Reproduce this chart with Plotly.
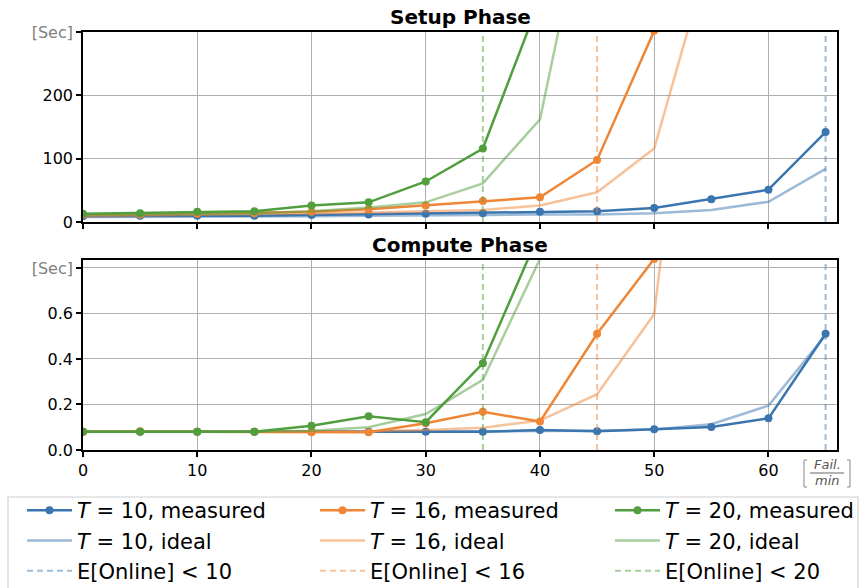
import plotly.graph_objects as go
from plotly.subplots import make_subplots

# ---------------- data ----------------
fail_rate = [0, 5, 10, 15, 20, 25, 30, 35, 40, 45, 50, 55, 60, 65]

setup_t10_measured = [9, 10, 10, 10, 11, 12, 13, 14, 16, 17, 22, 36, 51, 142]
setup_t10_ideal = [8, 8, 9, 9, 9, 10, 10, 11, 12, 12, 14, 19, 32, 84]
setup_t16_measured = [11, 12, 13, 14, 16, 20, 26, 33, 39, 98, 302]
setup_t16_ideal = [9, 10, 11, 12, 13, 15, 17, 19, 26, 47, 116, 433]
setup_t20_measured = [13, 14, 16, 17, 26, 31, 64, 116, 352]
setup_t20_ideal = [11, 12, 13, 14, 17, 23, 31, 61, 162, 593]

compute_t10_measured = [0.08, 0.08, 0.08, 0.08, 0.08, 0.08, 0.08, 0.08, 0.088, 0.082, 0.091, 0.101, 0.139, 0.511]
compute_t10_ideal = [0.08, 0.08, 0.08, 0.08, 0.08, 0.08, 0.08, 0.082, 0.083, 0.085, 0.09, 0.113, 0.195, 0.505]
compute_t16_measured = [0.08, 0.082, 0.08, 0.08, 0.078, 0.078, 0.118, 0.168, 0.125, 0.511, 0.84]
compute_t16_ideal = [0.08, 0.08, 0.08, 0.08, 0.08, 0.082, 0.088, 0.098, 0.129, 0.245, 0.598, 2.68]
compute_t20_measured = [0.08, 0.08, 0.08, 0.08, 0.107, 0.148, 0.122, 0.381, 0.96]
compute_t20_ideal = [0.08, 0.08, 0.08, 0.08, 0.085, 0.10, 0.158, 0.308, 0.84, 2.0]

thresholds = {"10": 65, "16": 45, "20": 35}

x_ticks = [0, 10, 20, 30, 40, 50, 60]
setup_ticks = [0, 100, 200, 300]
setup_ticktext = ["0", "100", "200", '<span style="color:#7f7f7f">[Sec]</span>']
compute_ticks = [0.0, 0.2, 0.4, 0.6, 0.8]
compute_ticktext = ["0.0", "0.2", "0.4", "0.6", '<span style="color:#7f7f7f">[Sec]</span>']

X_RANGE = [0, 66]
SETUP_RANGE = [0, 300]
COMPUTE_RANGE = [0, 0.835]

colors = {"10": (59, 117, 175), "16": (239, 134, 54), "20": (81, 158, 62)}

def rgb(c, a=1.0):
    return f"rgba({c[0]},{c[1]},{c[2]},{a})"

FONT = "DejaVu Sans"

fig = make_subplots(rows=2, cols=1, subplot_titles=("<b>Setup Phase</b>", "<b>Compute Phase</b>"),
                    vertical_spacing=0.09)

series = {
    "10": (setup_t10_measured, setup_t10_ideal, compute_t10_measured, compute_t10_ideal),
    "16": (setup_t16_measured, setup_t16_ideal, compute_t16_measured, compute_t16_ideal),
    "20": (setup_t20_measured, setup_t20_ideal, compute_t20_measured, compute_t20_ideal),
}
legend_names = {"10": "legend", "16": "legend2", "20": "legend3"}

for T, (s_meas, s_ideal, c_meas, c_ideal) in series.items():
    col = colors[T]
    lg = legend_names[T]
    for row, meas, ideal in ((1, s_meas, s_ideal), (2, c_meas, c_ideal)):
        show = row == 1
        fig.add_trace(go.Scatter(
            x=fail_rate[:len(ideal)], y=ideal, mode="lines",
            line=dict(color=rgb(col, 0.5), width=2.5),
            name=f"<i>T</i> = {T}, ideal", legend=lg, legendrank=2,
            showlegend=show), row=row, col=1)
        fig.add_trace(go.Scatter(
            x=fail_rate[:len(meas)], y=meas, mode="lines+markers",
            line=dict(color=rgb(col), width=2.5),
            marker=dict(color=rgb(col), size=8),
            name=f"<i>T</i> = {T}, measured", legend=lg, legendrank=1,
            showlegend=show), row=row, col=1)

for T, xv in thresholds.items():
    col = colors[T]
    lg = legend_names[T]
    for row, yr in ((1, SETUP_RANGE), (2, COMPUTE_RANGE)):
        fig.add_trace(go.Scatter(
            x=[xv, xv], y=[yr[0], yr[1] * 2], mode="lines",
            line=dict(color=rgb(col, 0.5), width=2, dash="6px,4px"),
            name=f"E[Online] < {T}", legend=lg, legendrank=3,
            showlegend=(row == 1)), row=row, col=1)

axis_common = dict(showline=True, mirror=True, linecolor="black", linewidth=1.6,
                   showgrid=True, gridcolor="#b0b0b0", gridwidth=1.3, zeroline=False,
                   ticks="outside", ticklen=5, tickwidth=1.5, tickcolor="black",
                   tickfont=dict(family=FONT, size=16, color="black"))

fig.update_xaxes(range=X_RANGE, tickvals=x_ticks, **axis_common)
fig.update_xaxes(showticklabels=False, row=1, col=1)
fig.update_yaxes(**axis_common)
fig.update_yaxes(range=SETUP_RANGE, tickvals=setup_ticks, ticktext=setup_ticktext, row=1, col=1)
fig.update_yaxes(range=COMPUTE_RANGE, tickvals=compute_ticks, ticktext=compute_ticktext, row=2, col=1)

PLOT_H = 588 - 32 - 138
fig.update_layout(
    yaxis=dict(domain=[228 / PLOT_H, 1]),
    yaxis2=dict(domain=[0, 190 / PLOT_H]),
)

for ann in fig.layout.annotations:
    ann.font = dict(family=FONT, size=20, color="black")
    ann.yshift = 1

def px_x(p):
    return (p - 83) / 754

def px_y(p):
    return (450 - p) / PLOT_H

legend_common = dict(orientation="v", font=dict(family=FONT, size=21, color="black"),
                     bgcolor="rgba(0,0,0,0)", borderwidth=0, itemwidth=45,
                     xanchor="left", yanchor="top", tracegroupgap=0)
legend_y = px_y(490)
fig.update_layout(
    legend=dict(x=px_x(22), y=legend_y, **legend_common),
    legend2=dict(x=px_x(315), y=legend_y, **legend_common),
    legend3=dict(x=px_x(610), y=legend_y, **legend_common),
)

shapes = [
    dict(type="rect", xref="paper", yref="paper", x0=px_x(8), x1=px_x(858), y0=px_y(640), y1=px_y(497),
         line=dict(color="#d0d0d0", width=1.2), fillcolor="rgba(0,0,0,0)", layer="below"),
    # fraction bar and brackets for x unit label
    dict(type="line", xref="paper", yref="paper", x0=px_x(810), x1=px_x(844), y0=px_y(473), y1=px_y(473),
         line=dict(color="#666666", width=1)),
    dict(type="path", xref="paper", yref="paper",
         path=f"M{px_x(807)},{px_y(460)} L{px_x(804)},{px_y(460)} L{px_x(804)},{px_y(487)} L{px_x(807)},{px_y(487)}",
         line=dict(color="#888888", width=1)),
    dict(type="path", xref="paper", yref="paper",
         path=f"M{px_x(847)},{px_y(460)} L{px_x(850)},{px_y(460)} L{px_x(850)},{px_y(487)} L{px_x(847)},{px_y(487)}",
         line=dict(color="#888888", width=1)),
]
fig.update_layout(shapes=shapes)

fig.add_annotation(xref="paper", yref="paper", x=px_x(827), y=px_y(465), text="<i>Fail.</i>",
                   showarrow=False, xanchor="center", yanchor="middle",
                   font=dict(family=FONT, size=13, color="#555555"))
fig.add_annotation(xref="paper", yref="paper", x=px_x(827), y=px_y(481), text="<i>min</i>",
                   showarrow=False, xanchor="center", yanchor="middle",
                   font=dict(family=FONT, size=13, color="#555555"))

fig.update_layout(
    width=861, height=588,
    margin=dict(l=83, r=24, t=32, b=138, autoexpand=False),
    paper_bgcolor="white", plot_bgcolor="white",
    font=dict(family=FONT, color="black"),
)

fig.write_html("out.html", post_script="document.body.style.margin='0';",
               config={"displayModeBar": False})
